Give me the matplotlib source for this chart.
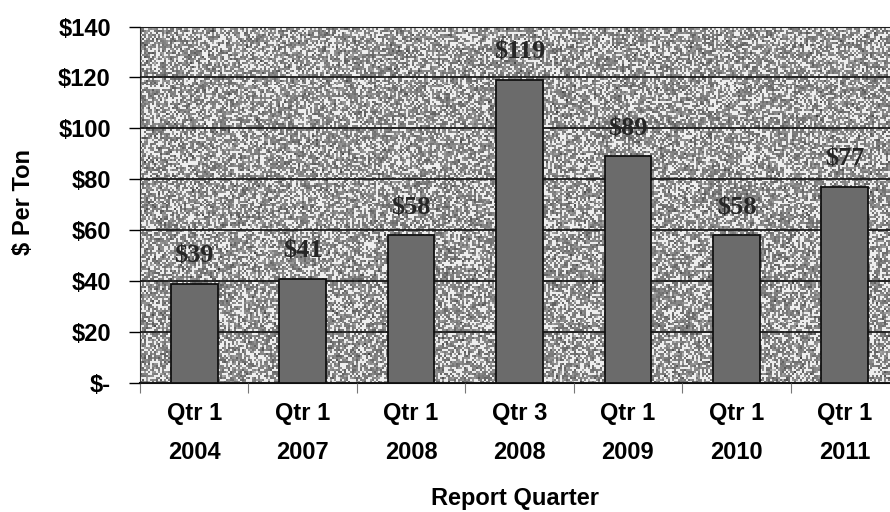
import numpy as np
import matplotlib
matplotlib.use("Agg")
import matplotlib.pyplot as plt

quarters = ["Qtr 1", "Qtr 1", "Qtr 1", "Qtr 3", "Qtr 1", "Qtr 1", "Qtr 1"]
years = ["2004", "2007", "2008", "2008", "2009", "2010", "2011"]
price_per_ton = [39, 41, 58, 119, 89, 58, 77]
y_ticks = [0, 20, 40, 60, 80, 100, 120, 140]
y_tick_labels = ["$-", "$20", "$40", "$60", "$80", "$100", "$120", "$140"]

plt.rcParams['font.family'] = ['Liberation Sans', 'DejaVu Sans']

fig = plt.figure(figsize=(8.9, 5.12), dpi=100)
ax = fig.add_axes([140 / 890, 1 - 383 / 512, 759 / 890, 356.5 / 512])

# speckled gray backdrop, like the scanned plot area
rng = np.random.default_rng(3)
tex = 0.50 + 0.07 * rng.standard_normal((180, 380))
tex[rng.random(tex.shape) < 0.36] = 0.93
ax.imshow(tex, cmap="gray", vmin=0, vmax=1, aspect="auto",
          extent=(0, 1, 0, 1), transform=ax.transAxes, zorder=0,
          interpolation="nearest")

x = np.arange(len(price_per_ton))
labels = [q + "\n" + y for q, y in zip(quarters, years)]
bars = ax.bar(x, price_per_ton, width=0.43, color="#6b6b6b",
              edgecolor="#111111", linewidth=1.3, zorder=3)

for b, v in zip(bars, price_per_ton):
    ax.annotate("$" + str(v), (b.get_x() + b.get_width() / 2, v),
                xytext=(0, 20), textcoords="offset points",
                ha="center", va="center", fontsize=19,
                family="Liberation Serif", fontweight="bold",
                color="#262626", zorder=4)

ax.set_xlim(-0.5, 6.5)
ax.set_ylim(0, 140)
ax.set_yticks(y_ticks)
ax.set_yticklabels(y_tick_labels, fontsize=17, fontweight="bold")
ax.set_xticks(x)
ax.set_xticklabels(labels, fontsize=17, fontweight="bold", linespacing=1.85)
ax.set_xticks(np.arange(-0.5, 7, 1), minor=True)
ax.tick_params(axis="x", which="major", length=0, pad=14)
ax.tick_params(axis="x", which="minor", length=7, width=0.8,
               color="#777777")
ax.tick_params(axis="y", length=8, width=1, pad=13)
for lab in ax.get_yticklabels():
    lab.set_horizontalalignment("right")

ax.yaxis.grid(True, color="#1a1a1a", linewidth=1.3, zorder=1)
ax.set_axisbelow(False)
for l in ax.get_ygridlines():
    l.set_zorder(1)
ax.spines["right"].set_visible(False)
ax.spines["top"].set_color("#333333")
ax.spines["left"].set_color("#333333")
ax.spines["bottom"].set_color("#111111")
ax.spines["bottom"].set_linewidth(1.5)

fig.text(24 / 890, 1 - 202 / 512, "$ Per Ton", rotation=90,
         ha="center", va="center", fontsize=17, fontweight="bold")
fig.text(515 / 890, 1 - 498 / 512, "Report Quarter",
         ha="center", va="center", fontsize=17, fontweight="bold")

fig.savefig("out.png", dpi=100)
